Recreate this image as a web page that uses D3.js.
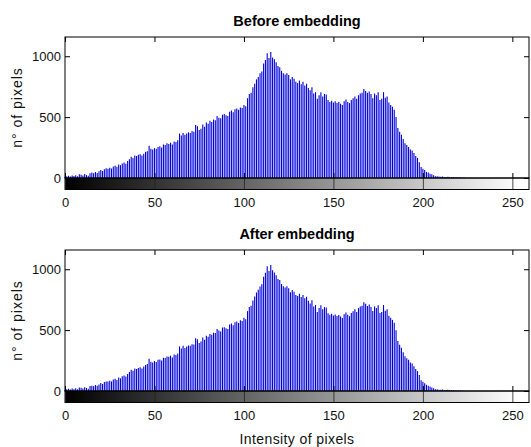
<!DOCTYPE html>
<html>
<head>
<meta charset="utf-8">
<script src="https://cdn.jsdelivr.net/npm/d3@7"></script>
<style>
  html, body { margin: 0; padding: 0; background: #ffffff; }
  svg { display: block; }
  text { font-family: "Liberation Sans", Arial, sans-serif; }
</style>
</head>
<body>
<svg id="chart" width="531" height="447"></svg>
<script>
// ---- data ----
const titles = ["Before embedding", "After embedding"];
const xLabel = "Intensity of pixels";
const yLabel = "n° of pixels";
const xTicks = [0, 50, 100, 150, 200, 250];
const yTicks = [0, 500, 1000];

const beforeValues = [
  10, 15, 18, 12, 20, 16, 22, 14, 30, 26,
  20, 32, 24, 18, 40, 45, 38, 50, 42, 55,
  65, 58, 72, 80, 76, 85, 78, 95, 100, 92,
  110, 105, 120, 128, 118, 140, 155, 175, 165, 185,
  180, 190, 195, 185, 200, 215, 220, 265, 240, 235,
  245, 240, 255, 260, 250, 275, 270, 285, 280, 290,
  275, 300, 295, 310, 365, 350, 370, 355, 365, 375,
  370, 385, 380, 435, 425, 395, 405, 440, 420, 455,
  445, 470, 460, 480, 475, 510, 495, 490, 520, 525,
  515, 510, 545, 555, 540, 565, 570, 560, 580, 575,
  600, 590, 655, 690, 700, 745, 775, 810, 830, 860,
  875, 940, 970, 1025, 985, 1035, 990, 975, 950, 920,
  910, 880, 860, 850, 860, 845, 810, 830, 815, 790,
  780, 800, 770, 790, 760, 775, 740, 720, 745, 695,
  705, 650, 680, 705, 670, 690, 685, 640, 625, 635,
  620, 630, 615, 625, 610, 600, 630, 645, 625, 615,
  640, 655, 670, 650, 680, 695, 700, 730, 715, 700,
  710, 690, 655, 695, 680, 705, 640, 650, 705, 660,
  670, 620, 600, 585, 560, 500, 410, 380, 355, 320,
  285, 270, 255, 235, 225, 205, 180, 165, 130, 90,
  75, 65, 50, 45, 35, 30, 22, 15, 14, 12,
  10, 12, 9, 8, 10, 7, 6, 8, 5, 6,
  4, 5, 3, 4, 0, 0, 0, 0, 0, 0,
  0, 0, 0, 0, 0, 0, 0, 0, 0, 0,
  0, 0, 0, 0, 0, 0, 0, 0, 0, 0,
  0, 0, 0, 0, 0, 0
];

const afterValues = [
  11, 14, 19, 12, 21, 15, 23, 14, 29, 27,
  20, 31, 25, 18, 41, 44, 39, 50, 43, 54,
  66, 57, 73, 79, 77, 84, 79, 94, 101, 91,
  111, 104, 121, 127, 119, 139, 156, 174, 166, 184,
  181, 189, 196, 184, 201, 214, 221, 264, 241, 234,
  246, 239, 256, 259, 251, 274, 271, 284, 281, 289,
  276, 299, 296, 309, 366, 349, 371, 354, 366, 374,
  371, 384, 381, 434, 426, 394, 406, 439, 421, 454,
  446, 469, 461, 479, 476, 509, 496, 489, 521, 524,
  516, 509, 546, 554, 541, 564, 571, 559, 581, 574,
  601, 589, 656, 689, 701, 744, 776, 809, 831, 859,
  876, 939, 971, 1024, 986, 1034, 991, 974, 951, 919,
  911, 879, 861, 849, 861, 844, 811, 829, 816, 789,
  781, 799, 771, 789, 761, 774, 741, 719, 746, 694,
  706, 649, 681, 704, 671, 689, 686, 639, 626, 634,
  621, 629, 616, 624, 611, 599, 631, 644, 626, 614,
  641, 654, 671, 649, 681, 694, 701, 729, 716, 699,
  711, 689, 656, 694, 681, 704, 641, 649, 706, 659,
  671, 619, 601, 584, 561, 499, 411, 379, 356, 319,
  286, 269, 256, 234, 226, 204, 181, 164, 131, 89,
  76, 64, 51, 44, 36, 29, 23, 14, 15, 11,
  11, 12, 8, 9, 10, 6, 7, 8, 5, 5,
  4, 5, 3, 3, 0, 0, 0, 0, 0, 0,
  0, 0, 0, 0, 0, 0, 0, 0, 0, 0,
  0, 0, 0, 0, 0, 0, 0, 0, 0, 0,
  0, 0, 0, 0, 0, 0
];

const seriesList = [beforeValues, afterValues];

// ---- layout ----
const svg = d3.select("#chart");
const left = 65, right = 529;
const panels = [
  { top: 37, bottom: 178 },
  { top: 250, bottom: 391 }
];
const barH = 11.5;
const xMax = 259.3;
const yMax = 1158;
const fontSize = 13;

const x = d3.scaleLinear().domain([0, xMax]).range([left, right]);

// gray gradient for the colour bar (black at 0 -> white at 255)
const defs = svg.append("defs");
const grad = defs.append("linearGradient")
  .attr("id", "grayGrad")
  .attr("gradientUnits", "userSpaceOnUse")
  .attr("x1", x(0)).attr("x2", x(255))
  .attr("y1", 0).attr("y2", 0);
grad.append("stop").attr("offset", "0%").attr("stop-color", "#000");
grad.append("stop").attr("offset", "100%").attr("stop-color", "#fff");

panels.forEach((p, k) => {
  const values = seriesList[k];
  const y = d3.scaleLinear().domain([0, yMax]).range([p.bottom, p.top]);
  const g = svg.append("g");

  // stems
  g.append("g")
    .selectAll("line")
    .data(values.map((v, i) => ({ i, v })).filter(d => d.v > 0))
    .join("line")
    .attr("x1", d => x(d.i))
    .attr("x2", d => x(d.i))
    .attr("y1", y(0))
    .attr("y2", d => y(d.v))
    .attr("stroke", "#0000dc")
    .attr("stroke-width", 1.1);

  // colorbar
  g.append("rect")
    .attr("x", left).attr("y", p.bottom)
    .attr("width", right - left).attr("height", barH)
    .attr("fill", "url(#grayGrad)")
    .attr("stroke", "#000").attr("stroke-width", 1);

  // colorbar ticks + x tick labels
  const cbAxis = g.append("g")
    .attr("transform", `translate(0,${p.bottom + barH})`)
    .call(d3.axisBottom(x).tickValues(xTicks).tickSize(-barH).tickPadding(8).tickFormat(d3.format("d")));
  cbAxis.select(".domain").remove();
  cbAxis.selectAll(".tick line").attr("stroke", "#222").attr("stroke-opacity", 0.8);
  cbAxis.selectAll("text").attr("font-size", fontSize).attr("fill", "#111")
    .attr("font-family", "Liberation Sans, Arial, sans-serif");

  // box
  g.append("rect")
    .attr("x", left).attr("y", p.top)
    .attr("width", right - left).attr("height", p.bottom - p.top)
    .attr("fill", "none").attr("stroke", "#000").attr("stroke-width", 1);

  // inward ticks: top, bottom, right, left
  const topAx = g.append("g").attr("transform", `translate(0,${p.top})`)
    .call(d3.axisTop(x).tickValues(xTicks).tickSize(-5).tickFormat(""));
  const botAx = g.append("g").attr("transform", `translate(0,${p.bottom})`)
    .call(d3.axisBottom(x).tickValues(xTicks).tickSize(-5).tickFormat(""));
  const rightAx = g.append("g").attr("transform", `translate(${right},0)`)
    .call(d3.axisRight(y).tickValues(yTicks).tickSize(-5).tickFormat(""));
  const leftAx = g.append("g").attr("transform", `translate(${left},0)`)
    .call(d3.axisLeft(y).tickValues(yTicks).tickSize(-5).tickPadding(4).tickFormat(d3.format("d")));
  [topAx, botAx, rightAx, leftAx].forEach(a => {
    a.select(".domain").remove();
    a.selectAll(".tick line").attr("stroke", "#000");
  });
  leftAx.selectAll("text").attr("font-size", fontSize).attr("fill", "#111")
    .attr("font-family", "Liberation Sans, Arial, sans-serif");

  // title
  g.append("text")
    .attr("x", (left + right) / 2)
    .attr("y", p.top - 11)
    .attr("text-anchor", "middle")
    .attr("font-weight", "bold")
    .attr("font-size", 14.5)
    .attr("fill", "#000")
    .text(titles[k]);

  // y label
  g.append("text")
    .attr("transform", `translate(22,${(p.top + p.bottom) / 2}) rotate(-90)`)
    .attr("text-anchor", "middle")
    .attr("font-size", 14)
    .attr("letter-spacing", 1)
    .attr("fill", "#111")
    .text(yLabel);
});

// x label
svg.append("text")
  .attr("x", (left + right) / 2)
  .attr("y", 444)
  .attr("text-anchor", "middle")
  .attr("font-size", 14)
  .attr("letter-spacing", 0.4)
  .attr("fill", "#111")
  .text(xLabel);
</script>
</body>
</html>
